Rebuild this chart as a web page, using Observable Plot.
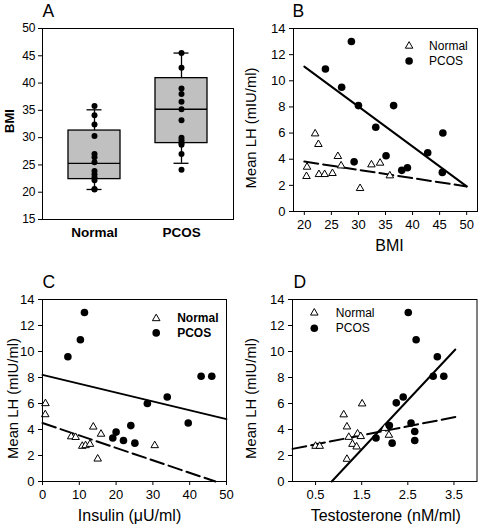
<!DOCTYPE html>
<html><head><meta charset="utf-8">
<script src="https://cdn.jsdelivr.net/npm/d3@7"></script>
<script src="https://cdn.jsdelivr.net/npm/@observablehq/plot@0.6"></script>
<style>
body{margin:0;background:#fff;}
#chart{position:relative;width:478px;height:526px;background:#fff;overflow:hidden;}
#chart svg{position:absolute;}
</style></head><body><div id="chart"></div>
<script>
const FONT = '"Liberation Sans", Arial, Helvetica, sans-serif';

// ---- Panel A: BMI box plots ----
const groups = ["Normal", "PCOS"];
const normalBMI = [20.5, 20.6, 22.2, 22.7, 23.3, 23.9, 25.5, 26.4, 27.0, 30.3, 32.4, 34.1, 35.8];
const pcosBMI = [24.1, 27.0, 28.7, 29.0, 29.5, 30.0, 33.2, 35.2, 36.6, 38.0, 39.0, 42.8, 45.5];
const boxQ1 = [22.4, 29.0];
const boxMedian = [25.3, 35.2];
const boxQ3 = [31.3, 40.9];
const whiskerLow = [20.5, 25.3];
const whiskerHigh = [35.1, 45.5];
const bmiTicks = [15, 20, 25, 30, 35, 40, 45, 50];

// ---- Panel B: Mean LH vs BMI ----
const pcosB_bmi = [28.7, 23.9, 26.9, 30.0, 36.5, 33.2, 45.6, 42.8, 35.1, 29.2, 38.0, 39.05, 45.5];
const pcosB_lh  = [13.0, 10.9, 9.5, 8.1, 8.1, 6.45, 6.0, 4.5, 4.27, 3.8, 3.15, 3.35, 2.99];
const normB_bmi = [20.4, 20.5, 22.0, 22.6, 22.7, 23.75, 25.2, 26.2, 26.8, 30.3, 32.4, 34.0, 35.8];
const normB_lh  = [2.69, 3.4, 5.95, 5.14, 2.84, 2.84, 2.92, 4.22, 3.5, 1.77, 3.58, 3.71, 2.74];
const fitB_pcos_x = [20, 50], fitB_pcos_y = [11.08, 1.92];
const fitB_norm_x = [20, 50], fitB_norm_y = [3.82, 1.92];
const bmiXTicks = [20, 25, 30, 35, 40, 45, 50];

// ---- Panel C: Mean LH vs Insulin ----
const pcosC_ins = [11.4, 10.3, 6.9, 43.1, 46.0, 33.9, 28.5, 39.6, 24.0, 20.0, 19.1, 22.0, 25.1];
const pcosC_lh  = [13.0, 10.9, 9.6, 8.1, 8.1, 6.5, 6.0, 4.5, 4.3, 3.8, 3.35, 3.15, 2.95];
const normC_ins = [0.8, 0.75, 13.8, 15.9, 7.8, 9.0, 10.8, 11.7, 12.9, 15.0, 30.5];
const normC_lh  = [6.0, 5.15, 4.2, 3.65, 3.45, 3.4, 2.72, 2.77, 2.87, 1.74, 2.77];
const fitC_pcos_x = [0, 50], fitC_pcos_y = [8.2, 4.8];
const fitC_norm_x = [0, 47], fitC_norm_y = [4.5, 0];
const insTicks = [0, 10, 20, 30, 40, 50];

// ---- Panel D: Mean LH vs Testosterone ----
const pcosD_t  = [2.51, 2.68, 3.14, 3.05, 3.28, 2.40, 2.25, 2.57, 2.10, 1.81, 2.16, 2.65, 2.65];
const pcosD_lh = [13.0, 10.9, 9.6, 8.1, 8.1, 6.5, 6.05, 4.5, 4.3, 3.35, 2.95, 3.85, 3.15];
const normD_t  = [0.5, 0.59, 1.51, 1.11, 1.18, 1.41, 1.22, 1.48, 1.30, 1.39, 1.18, 2.09, 2.0];
const normD_lh = [2.72, 2.72, 5.98, 5.14, 4.21, 3.67, 3.41, 3.47, 2.87, 2.67, 1.72, 3.57, 4.1];
const fitD_pcos_x = [0.85, 3.53], fitD_pcos_y = [0, 10.15];
const fitD_norm_x = [0, 3.53], fitD_norm_y = [2.51, 4.96];
const testoTicks = [0.5, 1.5, 2.5, 3.5];

const lhTicks = [0, 2, 4, 6, 8, 10, 12, 14];
const yLabel = "Mean LH (mIU/ml)";

const zip = (xs, ys) => xs.map((x, i) => ({x, y: ys[i]}));
const chart = document.getElementById("chart");
function place(svg, left, top) { svg.style.left = left + "px"; svg.style.top = top + "px"; chart.appendChild(svg); }

// Panel A
const boxes = groups.map((g, i) => ({group: g, q1: boxQ1[i], med: boxMedian[i], q3: boxQ3[i], lo: whiskerLow[i], hi: whiskerHigh[i]}));
const ptsA = normalBMI.map(v => ({group: "Normal", v})).concat(pcosBMI.map(v => ({group: "PCOS", v})));
const plotA = Plot.plot({
  width: 239, height: 260, marginLeft: 42, marginRight: 6, marginTop: 28, marginBottom: 41,
  style: {fontFamily: FONT, fontSize: "12px", color: "black", background: "transparent"},
  x: {type: "band", domain: groups, paddingInner: 0.4, paddingOuter: 0.296},
  y: {domain: [15, 50]},
  marks: [
    Plot.ruleX(boxes, {x: "group", y1: "q3", y2: "hi", stroke: "black", strokeWidth: 1.3}),
    Plot.ruleX(boxes, {x: "group", y1: "lo", y2: "q1", stroke: "black", strokeWidth: 1.3}),
    Plot.barY(boxes, {x: "group", y1: "q1", y2: "q3", fill: "#c0c0c0", stroke: "black", strokeWidth: 1.3}),
    Plot.tickY(boxes, {x: "group", y: "med", stroke: "black", strokeWidth: 1.3}),
    Plot.tickY(boxes, {x: "group", y: "hi", stroke: "black", strokeWidth: 1.3, insetLeft: 18.5, insetRight: 18.5}),
    Plot.tickY(boxes, {x: "group", y: "lo", stroke: "black", strokeWidth: 1.3, insetLeft: 18.5, insetRight: 18.5}),
    Plot.dot(ptsA, {x: "group", y: "v", r: 3, fill: "black"}),
    Plot.frame({stroke: "black"}),
    Plot.axisY({ticks: bmiTicks, tickSize: 4, tickPadding: 3, label: null}),
    Plot.axisX({tickSize: 0, tickPadding: 8, fontWeight: "bold", fontSize: 13.5, label: null}),
    Plot.text(["BMI"], {frameAnchor: "left", rotate: -90, dx: -33, dy: -3, textAnchor: "middle", lineAnchor: "middle", fontWeight: "bold", fontSize: 13}),
    Plot.text(["A"], {frameAnchor: "top-left", dx: 0, dy: -12, textAnchor: "start", lineAnchor: "bottom", fontSize: 17.5})
  ]
});
place(plotA, 0, 0);

function scatter({width, height, ml, mr, mt, mb, xDomain, xTicks, xLabel, xLabelDx, letter, pcos, norm, fitP, fitN, legend}) {
  const lf = legend;
  return Plot.plot({
    width, height, marginLeft: ml, marginRight: mr, marginTop: mt, marginBottom: mb,
    style: {fontFamily: FONT, fontSize: "13px", color: "black", background: "transparent"},
    x: {domain: xDomain},
    y: {domain: [0, 14]},
    marks: [
      Plot.line(fitP, {x: "x", y: "y", stroke: "black", strokeWidth: 2}),
      Plot.line(fitN, {x: "x", y: "y", stroke: "black", strokeWidth: 2, strokeDasharray: "14,5"}),
      Plot.dot(norm, {x: "x", y: "y", symbol: "triangle", r: 2.8, fill: "white", stroke: "black", strokeWidth: 1}),
      Plot.dot(pcos, {x: "x", y: "y", r: 3.8, fill: "black"}),
      Plot.frame({stroke: "black"}),
      Plot.axisX({ticks: xTicks, tickSize: 4, tickPadding: 4, label: null}),
      Plot.axisY({ticks: lhTicks, tickSize: 4, tickPadding: 4, label: null}),
      Plot.text([xLabel], {frameAnchor: "bottom", dx: xLabelDx, dy: 34, textAnchor: "middle", lineAnchor: "middle", fontSize: 16}),
      Plot.text([yLabel], {frameAnchor: "left", rotate: -90, dx: lf.ylx, dy: 8, textAnchor: "middle", lineAnchor: "middle", fontSize: 14.8}),
      Plot.text([letter], {frameAnchor: "top-left", dx: lf.letterDx, dy: -12, textAnchor: "start", lineAnchor: "bottom", fontSize: 17.5}),
      Plot.dot([0], {frameAnchor: "top-left", dx: lf.mx, dy: lf.y1, symbol: "triangle", r: 2.8, fill: "white", stroke: "black", strokeWidth: 1}),
      Plot.dot([0], {frameAnchor: "top-left", dx: lf.mx, dy: lf.y2, r: 3.8, fill: "black"}),
      Plot.text(["Normal"], {frameAnchor: "top-left", dx: lf.tx, dy: lf.y1, textAnchor: "start", lineAnchor: "middle", fontSize: 12, fontWeight: lf.bold ? "bold" : "normal"}),
      Plot.text(["PCOS"], {frameAnchor: "top-left", dx: lf.tx, dy: lf.y2, textAnchor: "start", lineAnchor: "middle", fontSize: 12, fontWeight: lf.bold ? "bold" : "normal"})
    ]
  });
}

const plotB = scatter({
  width: 239, height: 260, ml: 54, mr: 1, mt: 28, mb: 49,
  xDomain: [18, 52], xTicks: bmiXTicks, xLabel: "BMI", xLabelDx: 4, letter: "B",
  pcos: zip(pcosB_bmi, pcosB_lh), norm: zip(normB_bmi, normB_lh),
  fitP: zip(fitB_pcos_x, fitB_pcos_y), fitN: zip(fitB_norm_x, fitB_norm_y),
  legend: {mx: 115.6, tx: 135.6, y1: 17.5, y2: 32.5, bold: false, ylx: -42, letterDx: -1}
});
place(plotB, 239, 0);

const plotC = scatter({
  width: 239, height: 266, ml: 42, mr: 13, mt: 39, mb: 45,
  xDomain: [0, 50], xTicks: insTicks, xLabel: "Insulin (μU/ml)", xLabelDx: -5, letter: "C",
  pcos: zip(pcosC_ins, pcosC_lh), norm: zip(normC_ins, normC_lh),
  fitP: zip(fitC_pcos_x, fitC_pcos_y), fitN: zip(fitC_norm_x, fitC_norm_y),
  legend: {mx: 113.7, tx: 134.7, y1: 19, y2: 33.4, bold: true, ylx: -29, letterDx: 0}
});
place(plotC, 0, 260);

const plotD = scatter({
  width: 239, height: 266, ml: 53, mr: 1.5, mt: 39, mb: 45,
  xDomain: [0, 4], xTicks: testoTicks, xLabel: "Testosterone (nM/ml)", xLabelDx: 1, letter: "D",
  pcos: zip(pcosD_t, pcosD_lh), norm: zip(normD_t, normD_lh),
  fitP: zip(fitD_pcos_x, fitD_pcos_y), fitN: zip(fitD_norm_x, fitD_norm_y),
  legend: {mx: 21.8, tx: 43.3, y1: 13.4, y2: 28.7, bold: false, ylx: -41, letterDx: 1}
});
place(plotD, 239, 260);
</script></body></html>
